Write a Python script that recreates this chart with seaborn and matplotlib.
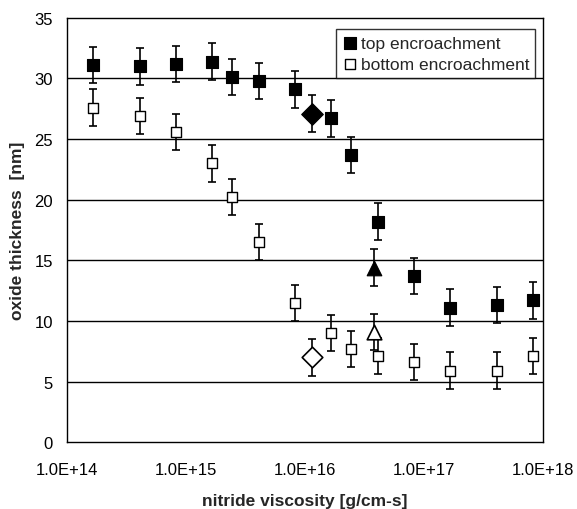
import numpy as np
import pandas as pd
import matplotlib
matplotlib.use("Agg")
import matplotlib.pyplot as plt
import seaborn as sns
from matplotlib.ticker import FixedLocator, NullLocator

# data
viscosity = [1.65e14, 4.1e14, 8.2e14, 1.65e15, 2.45e15, 4.1e15, 8.2e15,
             1.65e16, 2.45e16, 4.1e16, 8.2e16, 1.65e17, 4.1e17, 8.2e17]
top_thickness = [31.1, 31.0, 31.2, 31.4, 30.1, 29.8, 29.1, 26.7, 23.7, 18.2, 13.7, 11.1, 11.3, 11.7]
bottom_thickness = [27.6, 26.9, 25.6, 23.0, 20.2, 16.5, 11.5, 9.0, 7.7, 7.1, 6.6, 5.9, 5.9, 7.1]
err = 1.5
diamond_x = [1.15e16]
diamond_top = [27.1]
diamond_bottom = [7.0]
triangle_x = [3.8e16]
triangle_top = [14.4]
triangle_bottom = [9.1]
xticks = [1e14, 1e15, 1e16, 1e17, 1e18]
xticklabels = ["1.0E+14", "1.0E+15", "1.0E+16", "1.0E+17", "1.0E+18"]
yticks = [0, 5, 10, 15, 20, 25, 30, 35]

sns.set_style("white")
plt.rcParams['font.family'] = ['Liberation Sans', 'DejaVu Sans']

fig = plt.figure(figsize=(5.77, 5.10), dpi=100)
ax = fig.add_axes([0.116, 0.131, 0.825, 0.832])

df_top = pd.DataFrame({"x": viscosity, "y": top_thickness})
df_bot = pd.DataFrame({"x": viscosity, "y": bottom_thickness})

ebkw = dict(fmt="none", ecolor="black", elinewidth=1.2, capsize=3, capthick=1.2, zorder=2)
ax.errorbar(viscosity, top_thickness, yerr=err, **ebkw)
ax.errorbar(viscosity, bottom_thickness, yerr=err, **ebkw)
ax.errorbar(diamond_x, diamond_top, yerr=err, **ebkw)
ax.errorbar(diamond_x, diamond_bottom, yerr=err, **ebkw)
ax.errorbar(triangle_x, triangle_top, yerr=err, **ebkw)
ax.errorbar(triangle_x, triangle_bottom, yerr=err, **ebkw)

sns.scatterplot(data=df_top, x="x", y="y", marker="s", s=75, color="black",
                edgecolor="black", linewidth=0.8, ax=ax, zorder=3, label="top encroachment")
sns.scatterplot(data=df_bot, x="x", y="y", marker="s", s=55, color="white",
                edgecolor="black", linewidth=1.0, ax=ax, zorder=3, label="bottom encroachment")
sns.scatterplot(x=diamond_x, y=diamond_top, marker="D", s=120, color="black",
                edgecolor="black", ax=ax, zorder=3)
sns.scatterplot(x=diamond_x, y=diamond_bottom, marker="D", s=110, color="white",
                edgecolor="black", linewidth=1.2, ax=ax, zorder=3)
sns.scatterplot(x=triangle_x, y=triangle_top, marker="^", s=110, color="black",
                edgecolor="black", ax=ax, zorder=3)
sns.scatterplot(x=triangle_x, y=triangle_bottom, marker="^", s=110, color="white",
                edgecolor="black", linewidth=1.2, ax=ax, zorder=3)

ax.set_xscale("log")
ax.set_xlim(1e14, 1e18)
ax.set_ylim(0, 35)
ax.xaxis.set_major_locator(FixedLocator(xticks))
ax.xaxis.set_minor_locator(NullLocator())
ax.set_xticklabels(xticklabels)
ax.set_yticks(yticks)
ax.tick_params(axis="both", labelsize=12, colors="black", width=1)
ax.tick_params(axis="x", direction="in", length=4, pad=14)
ax.tick_params(axis="y", direction="inout", length=6, pad=7)

for y in [5, 10, 15, 20, 25, 30]:
    ax.axhline(y, color="black", lw=1.0, zorder=1)

for sp in ax.spines.values():
    sp.set_color("black")
    sp.set_linewidth(1.0)

ax.set_xlabel("nitride viscosity [g/cm-s]", fontsize=12.5, fontweight="bold", labelpad=12)
ax.set_ylabel("oxide thickness  [nm]", fontsize=12.5, fontweight="bold", labelpad=7)

leg = ax.legend(loc="upper right", bbox_to_anchor=(0.995, 0.985), fontsize=12.5, frameon=True,
                fancybox=False, edgecolor="black", handletextpad=0.1, borderpad=0.35,
                handlelength=1.0, labelspacing=0.35, borderaxespad=0.3)
leg.get_frame().set_linewidth(1.0)

fig.savefig("out.png", dpi=100)
